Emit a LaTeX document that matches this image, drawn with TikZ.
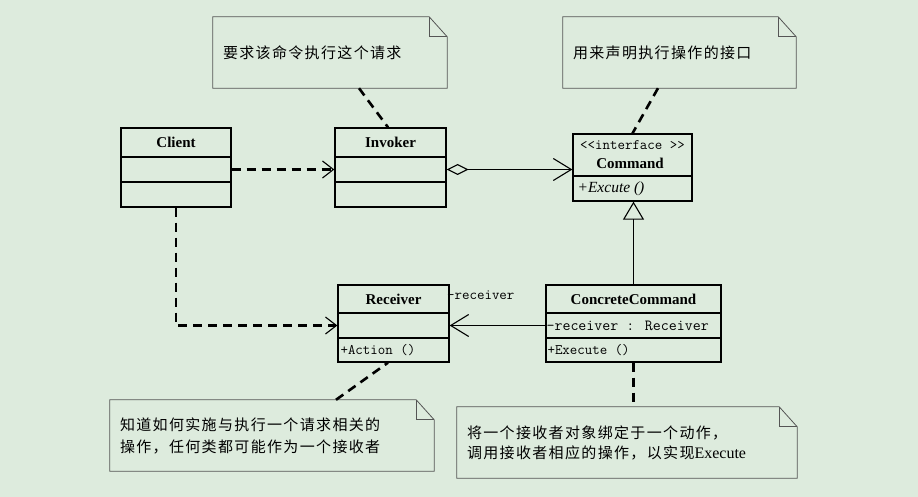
\documentclass[tikz,border=0pt]{standalone}
\usepackage{fontspec}
\setmainfont{Liberation Serif}
\newfontfamily\cjk[LetterSpace=9]{Noto Sans CJK SC}
\usetikzlibrary{arrows.meta}
\definecolor{bg}{RGB}{221,235,221}
\definecolor{notegray}{RGB}{85,85,85}
\begin{document}
\begin{tikzpicture}[x=1pt,y=-1pt,
  box/.style={draw, line width=1.3pt, inner sep=0pt, font=\fontsize{15}{18}\selectfont\bfseries},
  mono/.style={inner sep=0pt, font=\ttfamily\fontsize{14.5}{16}\selectfont},
  note/.style={inner xsep=10pt, inner ysep=0pt, align=left, font=\cjk\fontsize{15}{22}\selectfont},
  noteline/.style={draw=notegray, line width=0.8pt},
  dashconn/.style={line width=2.6pt, dash pattern=on 9pt off 6pt},
  conn/.style={line width=1.2pt},
  openhead/.style={-{Straight Barb[length=11pt,width=17pt,line width=1.1pt]}},
  bighead/.style={-{Straight Barb[length=18pt,width=22pt,line width=1.1pt]}}
]
\fill[bg] (0,0) rectangle (918,497);

% Client
\node[box, minimum width=110pt, minimum height=29pt] (clientH) at (176,142.5) {Client};
\node[box, minimum width=110pt, minimum height=25pt] (clientA) at (176,169.5) {};
\node[box, minimum width=110pt, minimum height=25pt] (clientO) at (176,194.5) {};
% Invoker
\node[box, minimum width=111pt, minimum height=29pt] (invokerH) at (390.5,142.5) {Invoker};
\node[box, minimum width=111pt, minimum height=25pt] (invokerA) at (390.5,169.5) {};
\node[box, minimum width=111pt, minimum height=25pt] (invokerO) at (390.5,194.5) {};
% Command
\node[box, minimum width=119pt, minimum height=42pt] (commandH) at (632.5,155) {};
\node[box, minimum width=119pt, minimum height=25pt] (commandO) at (632.5,188.5) {};
\node[mono] (cmdI) at (632.5,145) {<{}<interface >{}>};
\node[inner sep=0pt, font=\fontsize{15}{18}\selectfont\bfseries] (cmdN) at (630,163) {Command};
\node[inner sep=0pt, anchor=west, font=\fontsize{15.5}{18}\selectfont\itshape] (cmdOp) at ([xshift=5pt]commandO.west) {+Excute ()};
% Receiver
\node[box, minimum width=111pt, minimum height=28pt] (receiverH) at (393.5,299) {Receiver};
\node[box, minimum width=111pt, minimum height=25pt] (receiverA) at (393.5,325.5) {};
\node[box, minimum width=111pt, minimum height=24pt] (receiverO) at (393.5,350) {};
\node[mono, anchor=west] (recvOp) at ([xshift=3pt]receiverO.west) {+Action ()};
% ConcreteCommand
\node[box, minimum width=175pt, minimum height=28pt] (ccH) at (633.5,299) {ConcreteCommand};
\node[box, minimum width=175pt, minimum height=25pt] (ccA) at (633.5,325.5) {};
\node[box, minimum width=175pt, minimum height=24pt] (ccO) at (633.5,350) {};
\node[mono, anchor=west, font=\ttfamily\fontsize{15.5}{16}\selectfont] (ccAt) at ([xshift=1pt]ccA.west) {-receiver : Receiver};
\node[mono, anchor=west] (ccOp) at ([xshift=2pt]ccO.west) {+Execute ()};

% notes
\node[note, minimum width=234pt, minimum height=71pt, text width=214pt] (n1) at (330,52.5) {要求该命令执行这个请求};
\node[note, minimum width=233pt, minimum height=71pt, text width=213pt] (n2) at (679.5,52.5) {用来声明执行操作的接口};
\node[note, minimum width=324pt, minimum height=71pt, text width=304pt] (n3) at (272,435.5) {知道如何实施与执行一个请求相关的\\操作，任何类都可能作为一个接收者};
\node[note, minimum width=340pt, minimum height=71pt, text width=320pt, font=\cjk\fontsize{15}{20}\selectfont] (n4) at (627,442.5) {将一个接收者对象绑定于一个动作，\\调用接收者相应的操作，以实现{\rmfamily\fontsize{16}{20}\selectfont Execute}};
\foreach \n in {n1,n2,n3,n4}{
  \draw[noteline] (\n.north west) -- ([xshift=-18pt]\n.north east) -- ([yshift=-20pt]\n.north east) -- (\n.south east) -- (\n.south west) -- cycle;
  \draw[noteline] ([xshift=-18pt]\n.north east) |- ([yshift=-20pt]\n.north east);
}

% note links
\draw[dashconn] ([xshift=29pt]n1.south) -- ([xshift=-2.5pt]invokerH.north);
\draw[dashconn] ([xshift=-21.5pt]n2.south) -- (commandH.north);
\draw[dashconn] ([xshift=64pt]n3.north) -- ([xshift=-5.5pt]receiverO.south);
\draw[dashconn] (ccO.south) -- (ccO.south |- n4.north);

% relations
\draw[dashconn, openhead] (clientA.east) -- (invokerA.west);
\draw[dashconn, openhead] (clientO.south) |- (receiverA.west);
\draw[conn, {Diamond[open,length=22pt,width=11pt,line width=1.1pt]}-{Straight Barb[length=18pt,width=22pt,line width=1.1pt]}] (invokerA.east) -- (invokerA.east -| commandH.west);
\draw[conn, -{Triangle[open,length=18pt,width=21pt,line width=1.1pt]}] (ccH.north) -- (ccH.north |- commandO.south);
\draw[conn, bighead] (ccA.west) -- (receiverA.east);
\node[mono, anchor=west] (recvLbl) at (447,295) {-receiver};
\end{tikzpicture}
\end{document}
